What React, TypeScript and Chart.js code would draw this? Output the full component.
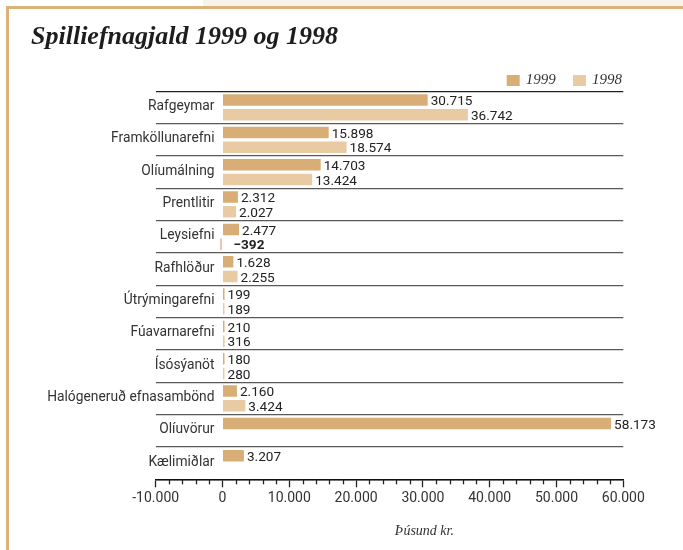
import React, { useEffect, useRef } from "react";
import { Chart, registerables } from "chart.js";

Chart.register(...registerables);

const categories = [
  "Rafgeymar",
  "Framköllunarefni",
  "Olíumálning",
  "Prentlitir",
  "Leysiefni",
  "Rafhlöður",
  "Útrýmingarefni",
  "Fúavarnarefni",
  "Ísósýanöt",
  "Halógeneruð efnasambönd",
  "Olíuvörur",
  "Kælimiðlar",
];
const values1999 = [30715, 15898, 14703, 2312, 2477, 1628, 199, 210, 180, 2160, 58173, 3207];
const values1998 = [36742, 18574, 13424, 2027, -392, 2255, 189, 316, 280, 3424, null, null];
const seriesLabels = ["1999", "1998"];
const titleText = "Spilliefnagjald 1999 og 1998";
const axisTitle = "Þúsund kr.";
const xMin = -10000;
const xMax = 60000;
const majorStep = 10000;
const minorStep = 2000;

const colors = ["#d8ae76", "#e8cba3"];
const SANS = "Roboto";
const SERIF = "'Liberation Serif'";

function fmt(n: number, minus = "-"): string {
  const s = Math.abs(Math.round(n)).toString();
  const withDots = s.replace(/\B(?=(\d{3})+(?!\d))/g, ".");
  return (n < 0 ? minus : "") + withDots;
}

const CHART_LEFT = 155.7;
const CHART_RIGHT = 623.3;
const CHART_BOTTOM = 479.3;
const LABEL_GAP = 8; // gap between category label and zero line

const extrasPlugin = {
  id: "extras",
  afterDatasetsDraw(chart: any) {
    const ctx = chart.ctx;
    ctx.save();
    const xs = chart.scales.x;
    const ys = chart.scales.y;
    const zero = xs.getPixelForValue(0);
    // category labels
    ctx.font = `13.8px ${SANS}`;
    ctx.fillStyle = "#333";
    ctx.textAlign = "right";
    ctx.textBaseline = "middle";
    ys.ticks.forEach((_t: any, i: number) => {
      ctx.fillText(String(ys.getLabelForValue(i)), zero - LABEL_GAP, ys.getPixelForTick(i) - 1);
    });
    // value labels
    chart.data.datasets.forEach((ds: any, di: number) => {
      const meta = chart.getDatasetMeta(di);
      meta.data.forEach((el: any, i: number) => {
        const v = ds.data[i];
        if (v === null || v === undefined) return;
        const y = el.y + el.height / 2 - 0.5;
        ctx.textBaseline = "alphabetic";
        ctx.textAlign = "left";
        ctx.fillStyle = "#222";
        if (v >= 0) {
          ctx.font = `13.6px ${SANS}`;
          ctx.fillText(fmt(v), el.x + 3, y);
        } else {
          ctx.font = `bold 13.6px ${SANS}`;
          ctx.fillText(fmt(v, "\u2212"), zero + 11, y);
        }
      });
    });
    ctx.restore();
  },
  afterDraw(chart: any) {
    const ctx = chart.ctx;
    const xs = chart.scales.x;
    const area = chart.chartArea;
    ctx.save();
    // minor ticks
    ctx.strokeStyle = "#222";
    ctx.lineWidth = 1.3;
    for (let v = xMin; v <= xMax; v += minorStep) {
      if (v % majorStep === 0) continue;
      const px = Math.round(xs.getPixelForValue(v)) + 0.5;
      ctx.beginPath();
      ctx.moveTo(px, area.bottom);
      ctx.lineTo(px, area.bottom + 5);
      ctx.stroke();
    }
    // legend
    ctx.font = `italic 15px ${SERIF}`;
    ctx.textBaseline = "alphabetic";
    ctx.textAlign = "left";
    let x = area.right - 1.3;
    for (let i = seriesLabels.length - 1; i >= 0; i--) {
      const w = ctx.measureText(seriesLabels[i]).width;
      const tx = x - w;
      ctx.fillStyle = "#333";
      ctx.fillText(seriesLabels[i], tx, 84);
      const sr = tx - 6;
      ctx.fillStyle = colors[i];
      ctx.fillRect(sr - 13, 75, 13, 11);
      x = sr - 13 - 17.3;
    }
    // axis title
    ctx.font = `italic 14px ${SERIF}`;
    ctx.fillStyle = "#333";
    ctx.textAlign = "center";
    ctx.fillText(axisTitle, xs.getPixelForValue(30000) + 1.5, 535);
    ctx.restore();
  },
};

export default function App() {
  const ref = useRef<HTMLCanvasElement | null>(null);
  useEffect(() => {
    if (!ref.current) return;
    const chart = new Chart(ref.current, {
      type: "bar",
      data: {
        labels: categories,
        datasets: [
          { label: seriesLabels[0], data: values1999, backgroundColor: colors[0] },
          { label: seriesLabels[1], data: values1998 as any, backgroundColor: colors[1] },
        ],
      },
      options: {
        indexAxis: "y",
        responsive: false,
        animation: false,
        devicePixelRatio: 1,
        layout: { padding: { left: 31, right: 683 - CHART_RIGHT, top: 12, bottom: 0 } },
        datasets: { bar: { categoryPercentage: 0.91, barPercentage: 0.78, minBarLength: 2 } },
        plugins: {
          legend: { display: false },
          tooltip: { enabled: false },
          title: {
            display: true,
            text: titleText,
            align: "start",
            color: "#1d1d1d",
            font: { family: SERIF, size: 26, style: "italic", weight: "bold" },
            padding: { top: 10, bottom: 38.1 },
          },
        },
        scales: {
          y: {
            type: "category",
            afterFit: (s: any) => {
              s.width = CHART_LEFT - 31;
            },
            border: { display: false },
            grid: {
              offset: true,
              drawTicks: false,
              color: (c: any) => (c.index === 0 ? "#222" : "#5a5a5a"),
              lineWidth: 1.2,
            },
            ticks: { display: false, autoSkip: false },
          },
          x: {
            type: "linear",
            min: xMin,
            max: xMax,
            afterFit: (s: any) => {
              s.height = 550 - CHART_BOTTOM;
            },
            border: { display: true, color: "#111", width: 1.5 },
            grid: {
              drawOnChartArea: false,
              drawTicks: true,
              tickLength: 8,
              tickWidth: 1.3,
              tickColor: (c: any) =>
                c.tick && c.tick.value % majorStep === 0 ? "#222" : "rgba(0,0,0,0)",
            },
            ticks: {
              stepSize: minorStep,
              maxTicksLimit: 100,
              autoSkip: false,
              maxRotation: 0,
              padding: 3,
              color: "#333",
              font: { family: SANS, size: 14 },
              callback: (v: any) => (Number(v) % majorStep === 0 ? fmt(Number(v)) : ""),
            },
          },
        },
      },
      plugins: [extrasPlugin],
    });
    return () => chart.destroy();
  }, []);

  return (
    <div
      style={{
        position: "fixed",
        left: 0,
        top: 0,
        width: 683,
        height: 550,
        background: "#ffffff",
        overflow: "hidden",
      }}
    >
      <div style={{ position: "absolute", left: 203, top: 0, width: 480, height: 6, background: "#f8f3eb" }} />
      <div style={{ position: "absolute", left: 6, top: 6, width: 677, height: 2.5, background: "#dcb27a" }} />
      <div style={{ position: "absolute", left: 6, top: 6, width: 2.5, height: 544, background: "#dcb27a" }} />
      <canvas
        ref={ref}
        width={683}
        height={550}
        style={{ position: "absolute", left: 0, top: 0, width: 683, height: 550 }}
      />
    </div>
  );
}
